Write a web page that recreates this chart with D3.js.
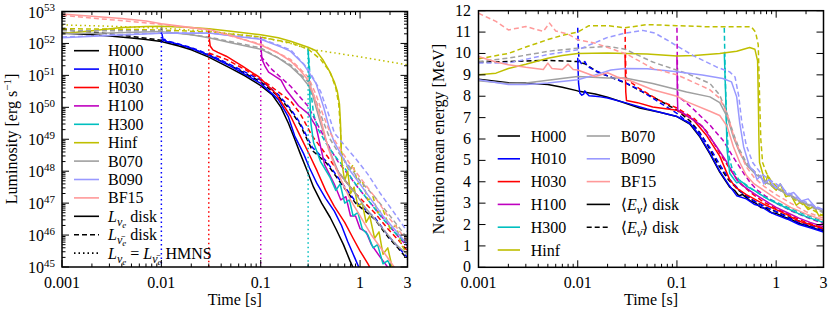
<!DOCTYPE html>
<html>
<head>
<meta charset="utf-8">
<script src="https://cdn.jsdelivr.net/npm/d3@7"></script>
<style>
  body { margin: 0; background: #fff; }
</style>
</head>
<body>
<svg id="chart" width="830" height="312"></svg>
<script>
// ---- data: [time s, log10 L (erg/s)] for the left panel, [time s, MeV] for the right one
const models = ['H000', 'H010', 'H030', 'H100', 'H300', 'Hinf', 'B070', 'B090', 'BF15'];
const timeTicks = [0.001, 0.01, 0.1, 1, 3];
const timeTickLabels = ['0.001', '0.01', '0.1', '1', '3'];
const lumExponents = [45, 46, 47, 48, 49, 50, 51, 52, 53];
const energyTicks = [0, 1, 2, 3, 4, 5, 6, 7, 8, 9, 10, 11, 12];

const lumNue_H000 = [[0.001,52.33],[0.002,52.27],[0.003,52.23],[0.005,52.17],[0.007,52.12],[0.01,52.06],[0.015,51.92],[0.02,51.8],[0.03,51.57],[0.05,51.22],[0.07,50.98],[0.1,50.68],[0.13,50.4],[0.16,50.0],[0.19,49.5],[0.22,49.0],[0.25,48.55],[0.29,48.05],[0.34,47.5],[0.41,47.0],[0.5,46.55],[0.58,46.15],[0.68,45.7],[0.79,45.2],[0.9,44.8]];
const lumAnue_H000 = [[0.001,52.43],[0.002,52.36],[0.005,52.22],[0.01,52.1],[0.02,51.84],[0.03,51.63],[0.05,51.3],[0.1,50.8],[0.15,50.35],[0.2,49.9],[0.25,49.45],[0.33,48.65],[0.46,48.25],[0.65,47.6],[0.9,47.0],[1.4,46.5],[1.9,45.95],[2.4,45.6],[2.8,45.35],[3,45.25]];
const lumNue_H010 = [[0.01,52.55],[0.0102,52.25],[0.0105,52.08],[0.0108,52.13],[0.0112,52.06],[0.013,52.02],[0.015,51.97],[0.02,51.85],[0.03,51.63],[0.05,51.28],[0.1,50.75],[0.15,50.25],[0.19,49.7],[0.22,49.1],[0.27,48.55],[0.31,48.1],[0.37,47.6],[0.45,47.15],[0.55,46.75],[0.65,46.3],[0.75,45.8],[0.88,45.3],[1.0,44.9]];
const lumAnue_H010 = [[0.01,52.12],[0.015,51.98],[0.02,51.87],[0.03,51.66],[0.05,51.33],[0.1,50.85],[0.15,50.4],[0.2,49.95],[0.25,49.5],[0.33,48.75],[0.46,48.3],[0.65,47.65],[0.9,47.05],[1.4,46.55],[1.9,46.0],[2.8,45.4],[3,45.3]];
const lumNue_H030 = [[0.03,52.42],[0.0305,52.1],[0.031,51.92],[0.033,51.8],[0.037,51.72],[0.045,51.6],[0.066,51.28],[0.096,50.95],[0.14,50.45],[0.2,49.72],[0.25,49.1],[0.3,48.6],[0.37,48.0],[0.45,47.4],[0.55,46.9],[0.7,46.4],[0.85,45.9],[1.0,45.5],[1.2,45.1],[1.35,44.8]];
const lumAnue_H030 = [[0.03,51.7],[0.045,51.5],[0.07,51.18],[0.12,50.71],[0.2,50.2],[0.25,49.8],[0.33,49.1],[0.46,48.5],[0.65,47.85],[0.9,47.3],[1.4,46.7],[1.9,46.2],[2.5,45.8],[3,45.5]];
const lumNue_H100 = [[0.1,52.2],[0.101,51.8],[0.103,51.5],[0.11,51.3],[0.12,51.1],[0.16,50.85],[0.18,50.55],[0.24,50.05],[0.3,49.8],[0.36,49.4],[0.44,48.2],[0.55,47.6],[0.64,47.1],[0.72,47.2],[0.8,46.6],[0.9,46.6],[1.0,46.2],[1.15,46.1],[1.3,45.7],[1.6,45.3],[2.0,44.9]];
const lumAnue_H100 = [[0.1,51.6],[0.13,51.18],[0.2,50.66],[0.3,50.03],[0.36,49.55],[0.43,49.1],[0.5,48.7],[0.6,48.3],[0.8,47.8],[1.0,47.4],[1.4,46.85],[1.9,46.35],[2.5,45.9],[3,45.65]];
const lumNue_H300 = [[0.3,51.85],[0.305,51.3],[0.31,50.6],[0.315,50.0],[0.32,49.5],[0.34,48.9],[0.4,48.3],[0.5,47.8],[0.57,47.4],[0.63,47.6],[0.7,47.0],[0.78,47.1],[0.85,46.6],[0.95,46.7],[1.05,46.2],[1.2,46.0],[1.35,45.6],[1.5,45.7],[1.7,45.1],[1.9,45.2],[2.2,44.8]];
const lumAnue_H300 = [[0.3,51.8],[0.31,51.2],[0.32,50.5],[0.34,49.8],[0.38,49.3],[0.45,48.9],[0.55,48.5],[0.7,48.1],[0.9,47.6],[1.2,47.1],[1.6,46.6],[2.2,46.1],[3,45.7]];
const lumNue_Hinf = [[0.001,52.3],[0.002,52.4],[0.004,52.5],[0.007,52.53],[0.01,52.54],[0.02,52.5],[0.03,52.46],[0.05,52.38],[0.1,52.27],[0.15,52.18],[0.2,52.07],[0.3,51.88],[0.36,51.77],[0.42,51.5],[0.49,51.14],[0.55,50.8],[0.59,50.5],[0.62,50.1],[0.635,49.5],[0.645,48.7],[0.66,48.2],[0.7,47.7],[0.75,48.0],[0.8,47.3],[0.87,47.5],[0.95,46.9],[1.05,47.0],[1.15,46.4],[1.25,46.6],[1.4,45.9],[1.55,46.1],[1.7,45.4],[1.9,45.6],[2.1,45.0],[2.3,44.8]];
const lumAnue_Hinf = [[0.001,52.46],[0.003,52.45],[0.01,52.42],[0.03,52.36],[0.1,52.2],[0.2,52.02],[0.3,51.82],[0.4,51.5],[0.5,51.1],[0.57,50.6],[0.61,50.1],[0.635,49.3],[0.65,48.6],[0.7,48.3],[0.78,48.0],[0.85,48.2],[0.95,47.6],[1.05,47.7],[1.2,47.1],[1.35,47.2],[1.5,46.7],[1.7,46.8],[2.0,46.2],[2.3,46.3],[2.6,45.7],[3,45.4]];
const lumNue_B070 = [[0.001,52.3],[0.003,52.33],[0.01,52.37],[0.02,52.27],[0.03,52.18],[0.05,52.02],[0.1,51.82],[0.15,51.55],[0.2,51.28],[0.25,51.0],[0.3,50.7],[0.33,50.45],[0.36,50.0],[0.4,49.5],[0.45,49.0],[0.5,48.6],[0.6,48.0],[0.75,47.6],[0.9,47.3],[1.1,46.9],[1.4,46.5],[1.8,46.1],[2.3,45.7],[3,45.4]];
const lumAnue_B070 = [[0.001,52.4],[0.01,52.4],[0.03,52.2],[0.1,51.86],[0.2,51.33],[0.3,50.8],[0.36,50.2],[0.42,49.6],[0.5,49.0],[0.6,48.6],[0.8,48.1],[1.0,47.7],[1.4,47.2],[2,46.6],[3,45.9]];
const lumNue_B090 = [[0.001,52.18],[0.003,52.25],[0.01,52.32],[0.03,52.33],[0.1,52.13],[0.166,51.87],[0.2,51.75],[0.27,51.35],[0.36,50.75],[0.43,50.0],[0.49,49.35],[0.55,48.9],[0.65,48.5],[0.8,48.0],[1.0,47.6],[1.3,47.1],[1.7,46.6],[2.2,46.2],[3,45.7]];
const lumAnue_B090 = [[0.001,52.2],[0.01,52.33],[0.03,52.33],[0.1,52.15],[0.2,51.8],[0.3,51.2],[0.4,50.5],[0.48,49.8],[0.55,49.2],[0.7,48.8],[0.9,48.4],[1.2,47.9],[1.6,47.3],[2.2,46.7],[3,46.1]];
const lumNue_BF15 = [[0.001,52.92],[0.002,52.85],[0.004,52.78],[0.007,52.7],[0.01,52.62],[0.02,52.5],[0.03,52.44],[0.05,52.25],[0.1,51.95],[0.15,51.7],[0.2,51.45],[0.25,51.15],[0.3,50.85],[0.34,50.4],[0.38,49.9],[0.42,49.4],[0.48,48.7],[0.55,48.2],[0.65,47.7],[0.8,47.1],[1.0,46.6],[1.3,46.0],[1.7,45.5],[2.2,45.0],[2.6,44.8]];
const lumAnue_BF15 = [[0.001,52.88],[0.01,52.6],[0.03,52.42],[0.1,51.98],[0.2,51.5],[0.3,50.95],[0.36,50.4],[0.42,49.8],[0.5,49.2],[0.6,48.8],[0.8,48.2],[1.0,47.8],[1.4,47.2],[2,46.5],[3,45.8]];

// HMNS luminosity (Hinf never collapses) and the drop of the other H models
const hmnsLum_Hinf = [[0.001,52.58],[0.003,52.54],[0.01,52.48],[0.03,52.38],[0.1,52.2],[0.2,52.0],[0.3,51.83],[1.0,51.58],[3,51.33]];
const collapseModels = ['H010', 'H030', 'H100', 'H300'];
const collapseTimes = [0.01, 0.03, 0.1, 0.3];
const collapseLum = [52.48, 52.38, 52.2, 51.83];

const eNue_H000 = [[0.001,8.8],[0.0015,8.7],[0.002,8.63],[0.003,8.62],[0.005,8.55],[0.007,8.42],[0.01,8.25],[0.015,8.1],[0.02,7.95],[0.027,7.75],[0.042,7.45],[0.067,7.25],[0.1,7.05],[0.135,6.7],[0.17,6.1],[0.215,5.3],[0.27,4.45],[0.34,3.75],[0.38,3.6],[0.42,3.35],[0.46,3.4],[0.55,3.1],[0.62,3.0],[0.7,2.8],[0.8,2.75],[0.9,2.55],[1.0,2.52],[1.2,2.35],[1.4,2.25],[1.7,2.05],[2.0,1.97],[2.5,1.8],[3,1.72]];
const eAnue_H000 = [[0.001,9.6],[0.002,9.62],[0.005,9.68],[0.01,9.62],[0.012,9.5],[0.0155,9.15],[0.02,8.95],[0.031,8.6],[0.045,8.2],[0.067,7.8],[0.1,7.35],[0.135,6.85],[0.17,6.3],[0.21,5.6],[0.26,4.8],[0.33,4.1],[0.42,3.6],[0.55,3.2],[0.75,2.85],[1.0,2.6],[1.5,2.25],[2.0,2.05],[3,1.8]];
const eNue_H010 = [[0.01,9.8],[0.0102,8.6],[0.0105,8.15],[0.011,8.05],[0.0115,8.1],[0.0118,8.25],[0.0122,8.15],[0.013,8.02],[0.015,8.0],[0.017,7.97],[0.02,7.92],[0.03,7.7],[0.05,7.4],[0.1,7.05],[0.135,6.75],[0.17,6.15],[0.215,5.35],[0.27,4.5],[0.34,3.8],[0.4,3.35],[0.5,3.2],[0.6,2.95],[0.7,2.85],[0.85,2.6],[1.0,2.45],[1.3,2.25],[1.7,2.0],[2.2,1.85],[3,1.65]];
const eAnue_H010 = [[0.01,11.2],[0.0101,10.5],[0.0103,9.7],[0.011,9.5],[0.0118,9.62],[0.0125,9.4],[0.015,9.2],[0.02,8.95],[0.029,8.67],[0.042,8.3],[0.067,7.7],[0.1,7.2],[0.158,6.45],[0.215,5.6],[0.27,4.8],[0.34,4.1],[0.45,3.5],[0.6,3.1],[0.8,2.8],[1.0,2.6],[1.5,2.2],[2.0,2.0],[3,1.75]];
const eNue_H030 = [[0.03,9.95],[0.0305,8.2],[0.031,7.8],[0.04,7.7],[0.057,7.5],[0.1,7.35],[0.146,6.9],[0.2,6.15],[0.27,5.2],[0.34,4.1],[0.4,3.7],[0.5,3.4],[0.6,3.2],[0.75,2.95],[1.0,2.7],[1.3,2.45],[1.7,2.15],[2.2,2.0],[3,1.8]];
const eAnue_H030 = [[0.03,11.15],[0.0302,10.2],[0.0305,9.3],[0.031,8.8],[0.042,8.35],[0.067,7.8],[0.1,7.45],[0.15,6.95],[0.2,6.35],[0.25,5.6],[0.32,4.8],[0.42,4.0],[0.55,3.5],[0.75,3.05],[1.0,2.75],[1.5,2.35],[2.0,2.1],[3,1.85]];
const eNue_H100 = [[0.1,9.9],[0.101,8.0],[0.102,7.35],[0.125,7.12],[0.18,6.6],[0.25,5.65],[0.32,4.9],[0.4,4.1],[0.45,3.85],[0.5,3.7],[0.6,3.45],[0.7,3.25],[0.85,3.0],[1.0,2.8],[1.3,2.55],[1.7,2.3],[2.2,2.1],[3,1.9]];
const eAnue_H100 = [[0.1,11.2],[0.101,9.5],[0.102,8.0],[0.12,7.75],[0.146,7.4],[0.215,6.65],[0.29,5.95],[0.37,5.15],[0.47,4.4],[0.55,3.95],[0.65,3.6],[0.8,3.3],[1.0,3.0],[1.4,2.65],[2.0,2.35],[3,2.05]];
const eNue_H300 = [[0.3,10.05],[0.31,8.0],[0.32,5.5],[0.34,4.4],[0.4,3.95],[0.45,4.0],[0.5,3.8],[0.6,3.6],[0.7,3.4],[0.85,3.15],[1.0,3.0],[1.3,2.75],[1.7,2.5],[2.2,2.3],[3,2.1]];
const eAnue_H300 = [[0.3,11.2],[0.305,9.5],[0.315,7.0],[0.33,5.3],[0.36,4.6],[0.42,4.1],[0.5,3.85],[0.6,3.6],[0.75,3.3],[1.0,3.05],[1.4,2.75],[2.0,2.45],[3,2.15]];
const eNue_Hinf = [[0.001,9.0],[0.0015,9.08],[0.002,9.3],[0.003,9.5],[0.005,9.78],[0.007,9.9],[0.01,10.0],[0.02,10.02],[0.03,10.0],[0.05,9.98],[0.1,9.88],[0.15,9.9],[0.27,10.0],[0.4,10.1],[0.54,10.28],[0.61,10.2],[0.65,9.65],[0.66,8.0],[0.67,6.0],[0.68,4.9],[0.72,4.5],[0.78,3.9],[0.82,4.3],[0.9,3.8],[1.0,3.6],[1.1,3.9],[1.25,3.3],[1.4,3.4],[1.6,2.9],[1.8,3.1],[2.1,2.7],[2.4,2.85],[2.7,2.4],[3,2.5]];
const eAnue_Hinf = [[0.001,9.75],[0.002,10.0],[0.003,10.3],[0.005,10.65],[0.007,10.85],[0.01,11.0],[0.013,11.3],[0.02,11.3],[0.03,11.2],[0.05,11.35],[0.1,11.3],[0.2,11.25],[0.3,11.25],[0.56,11.25],[0.62,11.0],[0.66,10.4],[0.68,8.0],[0.7,6.0],[0.73,4.9],[0.8,4.4],[0.9,4.0],[1.0,3.8],[1.2,3.5],[1.5,3.2],[2.0,2.85],[2.5,2.6],[3,2.4]];
const eNue_B070 = [[0.001,8.72],[0.002,8.6],[0.003,8.62],[0.005,8.75],[0.01,8.92],[0.02,8.85],[0.03,8.85],[0.057,8.6],[0.125,8.2],[0.215,7.97],[0.27,7.7],[0.32,7.05],[0.37,6.1],[0.43,5.35],[0.5,4.8],[0.55,4.6],[0.62,4.35],[0.7,4.2],[0.78,3.95],[0.85,3.9],[1.0,3.7],[1.15,3.55],[1.3,3.4],[1.5,3.3],[1.7,3.1],[2.2,2.9],[2.6,2.75],[3,2.6]];
const eAnue_B070 = [[0.001,9.62],[0.002,9.78],[0.005,10.1],[0.01,10.25],[0.02,10.33],[0.03,10.2],[0.057,9.6],[0.125,9.07],[0.215,8.6],[0.27,8.05],[0.32,7.2],[0.37,6.26],[0.43,5.48],[0.5,4.9],[0.6,4.5],[0.75,4.1],[1.0,3.7],[1.3,3.4],[1.7,3.1],[2.2,2.85],[3,2.55]];
const eNue_B090 = [[0.001,8.77],[0.002,8.55],[0.003,8.55],[0.005,8.62],[0.01,8.77],[0.015,9.0],[0.0216,9.23],[0.03,9.3],[0.05,9.28],[0.1,9.14],[0.18,8.99],[0.29,8.83],[0.355,8.67],[0.4,7.97],[0.43,6.73],[0.47,5.64],[0.54,4.7],[0.6,4.5],[0.64,4.1],[0.7,4.3],[0.75,3.9],[0.85,4.1],[1.0,3.7],[1.1,3.9],[1.3,3.4],[1.5,3.5],[1.8,3.1],[2.1,3.2],[2.5,2.8],[3,2.7]];
const eAnue_B090 = [[0.001,9.55],[0.002,9.55],[0.005,9.95],[0.01,10.17],[0.02,10.75],[0.03,10.95],[0.045,11.08],[0.06,10.95],[0.085,10.55],[0.1,10.35],[0.146,9.9],[0.25,9.37],[0.34,9.14],[0.385,8.9],[0.42,8.0],[0.45,6.8],[0.5,5.7],[0.58,4.9],[0.7,4.4],[0.85,4.1],[1.0,3.9],[1.3,3.5],[1.7,3.2],[2.2,2.95],[3,2.7]];
const eNue_BF15 = [[0.001,9.86],[0.0015,9.6],[0.002,9.47],[0.003,9.35],[0.0045,9.25],[0.005,9.55],[0.0055,9.3],[0.007,9.25],[0.008,9.5],[0.009,9.25],[0.01,9.23],[0.015,8.92],[0.02,9.1],[0.025,8.9],[0.032,8.77],[0.057,8.3],[0.1,8.0],[0.125,7.75],[0.215,7.3],[0.27,7.1],[0.32,6.6],[0.37,5.65],[0.43,4.9],[0.5,4.3],[0.6,3.9],[0.75,3.6],[1.0,3.2],[1.4,2.8],[2,2.5],[3,2.2]];
const eAnue_BF15 = [[0.001,11.88],[0.0015,11.5],[0.002,11.1],[0.003,11.26],[0.0045,11.03],[0.0052,11.42],[0.006,11.05],[0.008,10.9],[0.01,10.64],[0.015,10.48],[0.021,10.25],[0.032,9.94],[0.057,9.3],[0.1,9.0],[0.125,8.8],[0.215,8.3],[0.27,7.9],[0.32,7.2],[0.37,6.2],[0.43,5.4],[0.5,4.7],[0.6,4.2],[0.75,3.8],[1.0,3.4],[1.4,3.0],[2.0,2.6],[3,2.3]];

// ---- styles
const modelColor = {
  H000: '#000000', H010: '#0000ff', H030: '#ff0000', H100: '#bf00bf', H300: '#00bfbf',
  Hinf: '#bfbf00', B070: '#a0a0a0', B090: '#9999ff', BF15: '#ff9999'
};
const dashStyle = { nue: null, anue: '5,3', hmns: '1.5,3' };

const lumData = {
  H000: [lumNue_H000, lumAnue_H000], H010: [lumNue_H010, lumAnue_H010], H030: [lumNue_H030, lumAnue_H030],
  H100: [lumNue_H100, lumAnue_H100], H300: [lumNue_H300, lumAnue_H300], Hinf: [lumNue_Hinf, lumAnue_Hinf],
  B070: [lumNue_B070, lumAnue_B070], B090: [lumNue_B090, lumAnue_B090], BF15: [lumNue_BF15, lumAnue_BF15]
};
const energyData = {
  H000: [eNue_H000, eAnue_H000], H010: [eNue_H010, eAnue_H010], H030: [eNue_H030, eAnue_H030],
  H100: [eNue_H100, eAnue_H100], H300: [eNue_H300, eAnue_H300], Hinf: [eNue_Hinf, eAnue_Hinf],
  B070: [eNue_B070, eAnue_B070], B090: [eNue_B090, eAnue_B090], BF15: [eNue_BF15, eAnue_BF15]
};

const svg = d3.select('#chart');
const FONT = '"Liberation Serif", Tinos, "Nimbus Roman", "Times New Roman", Times, "DejaVu Serif", "Noto Serif", FreeSerif, serif';
const FS = 16;

// panel boxes
const L = { x0: 62, x1: 407.5, y0: 11.5, y1: 267 };
const R = { x0: 478.5, x1: 823.5, y0: 10.7, y1: 267.3 };

const xL = d3.scaleLog().domain([0.001, 3]).range([L.x0, L.x1]);
const yL = d3.scaleLog().domain([1e45, 1e53]).range([L.y1, L.y0]);
const xR = d3.scaleLog().domain([0.001, 3]).range([R.x0, R.x1]);
const yR = d3.scaleLinear().domain([0, 12]).range([R.y1, R.y0]);

const minorTimes = [];
[0.001, 0.01, 0.1, 1].forEach(function (dec) {
  for (let k = 2; k <= 9; k++) if (dec * k < 3) minorTimes.push(dec * k);
});
const minorLum = [];
lumExponents.slice(0, -1).forEach(function (e) {
  for (let k = 2; k <= 9; k++) minorLum.push(k * Math.pow(10, e));
});

function txt(g, x, y) {
  return g.append('text').attr('x', x).attr('y', y)
    .style('font-family', FONT).attr('font-size', FS).attr('fill', '#000');
}

function rich(g, x, y, parts, anchor) {
  const t = txt(g, x, y).attr('text-anchor', anchor || 'start');
  let prev = 0;
  parts.forEach(function (p) {
    const sh = p.sh || 0;
    t.append('tspan').attr('dy', sh - prev)
      .attr('font-size', p.fs || FS)
      .attr('font-style', p.it ? 'italic' : 'normal')
      .text(p.s);
    prev = sh;
  });
  return t;
}

function clip(id, b) {
  svg.append('clipPath').attr('id', id).append('rect')
    .attr('x', b.x0).attr('y', b.y0).attr('width', b.x1 - b.x0).attr('height', b.y1 - b.y0);
}
clip('clipL', L);
clip('clipR', R);

function drawSeries(g, data, x, y, color, dash, toY) {
  const line = d3.line().x(function (d) { return x(d[0]); }).y(function (d) { return y(toY(d[1])); });
  g.append('path').attr('d', line(data))
    .attr('fill', 'none').attr('stroke', color).attr('stroke-width', 1.5)
    .attr('stroke-linejoin', 'round')
    .attr('stroke-dasharray', dash);
}

const pow10 = function (v) { return Math.pow(10, v); };
const ident = function (v) { return v; };

// ---- left panel curves
const gL = svg.append('g').attr('clip-path', 'url(#clipL)');
models.forEach(function (m) {
  drawSeries(gL, lumData[m][0], xL, yL, modelColor[m], dashStyle.nue, pow10);
  drawSeries(gL, lumData[m][1], xL, yL, modelColor[m], dashStyle.anue, pow10);
});
collapseModels.forEach(function (m, i) {
  const seg = [[collapseTimes[i], collapseLum[i]], [collapseTimes[i], 44]];
  drawSeries(gL, seg, xL, yL, modelColor[m], dashStyle.hmns, pow10);
});
drawSeries(gL, hmnsLum_Hinf, xL, yL, modelColor.Hinf, dashStyle.hmns, pow10);

// ---- right panel curves
const gR = svg.append('g').attr('clip-path', 'url(#clipR)');
models.forEach(function (m) {
  drawSeries(gR, energyData[m][0], xR, yR, modelColor[m], dashStyle.nue, ident);
  drawSeries(gR, energyData[m][1], xR, yR, modelColor[m], dashStyle.anue, ident);
});

// ---- frames and ticks
function frame(b, x, y, xMaj, xMin, yMaj, yMin) {
  const g = svg.append('g').attr('stroke', '#000').attr('stroke-width', 1);
  xMaj.forEach(function (t) {
    const px = x(t);
    g.append('line').attr('x1', px).attr('x2', px).attr('y1', b.y1).attr('y2', b.y1 - 7);
    g.append('line').attr('x1', px).attr('x2', px).attr('y1', b.y0).attr('y2', b.y0 + 7);
  });
  xMin.forEach(function (t) {
    const px = x(t);
    g.append('line').attr('x1', px).attr('x2', px).attr('y1', b.y1).attr('y2', b.y1 - 3.5);
    g.append('line').attr('x1', px).attr('x2', px).attr('y1', b.y0).attr('y2', b.y0 + 3.5);
  });
  yMaj.forEach(function (v) {
    const py = y(v);
    g.append('line').attr('x1', b.x0).attr('x2', b.x0 + 7).attr('y1', py).attr('y2', py);
    g.append('line').attr('x1', b.x1).attr('x2', b.x1 - 7).attr('y1', py).attr('y2', py);
  });
  yMin.forEach(function (v) {
    const py = y(v);
    g.append('line').attr('x1', b.x0).attr('x2', b.x0 + 3.5).attr('y1', py).attr('y2', py);
    g.append('line').attr('x1', b.x1).attr('x2', b.x1 - 3.5).attr('y1', py).attr('y2', py);
  });
  svg.append('rect').attr('x', b.x0).attr('y', b.y0)
    .attr('width', b.x1 - b.x0).attr('height', b.y1 - b.y0)
    .attr('fill', 'none').attr('stroke', '#000').attr('stroke-width', 1.5);
}
frame(L, xL, yL, timeTicks.slice(0, 4), minorTimes, lumExponents.map(pow10), minorLum);
frame(R, xR, yR, timeTicks.slice(0, 4), minorTimes, energyTicks, []);

// tick labels
const labels = svg.append('g');
[[xL, L], [xR, R]].forEach(function (p) {
  timeTicks.forEach(function (t, i) {
    txt(labels, p[0](t), p[1].y1 + 21).attr('text-anchor', 'middle').text(timeTickLabels[i]);
  });
});
lumExponents.forEach(function (e) {
  rich(labels, 55, yL(pow10(e)) + 6, [{ s: '10' }, { s: String(e), fs: 11, sh: -6.5 }], 'end');
});
energyTicks.forEach(function (v) {
  txt(labels, 471, yR(v) + 5).attr('text-anchor', 'end').text(v);
});

// axis titles
txt(labels, (L.x0 + L.x1) / 2, 305).attr('text-anchor', 'middle').text('Time [s]');
txt(labels, (R.x0 + R.x1) / 2, 305).attr('text-anchor', 'middle').text('Time [s]');
rich(labels.append('g').attr('transform', 'translate(17,139) rotate(-90)'), 0, 0,
  [{ s: 'Luminosity [erg s' }, { s: '\u22121', fs: 11, sh: -6.5 }, { s: ']' }], 'middle');
txt(labels.append('g').attr('transform', 'translate(444,139) rotate(-90)'), 0, 0)
  .attr('text-anchor', 'middle').text('Neutrino mean energy [MeV]');

// ---- legends
function legendLine(g, x0, x1, y, color, dash) {
  g.append('line').attr('x1', x0).attr('x2', x1).attr('y1', y).attr('y2', y)
    .attr('stroke', color).attr('stroke-width', 1.6).attr('stroke-dasharray', dash);
}
const nuE = [{ s: 'L', it: true }, { s: '\u03bd', it: true, fs: 12, sh: 4 }, { s: 'e', it: true, fs: 9, sh: 6 }];
const nuEbar = [{ s: 'L', it: true }, { s: '\u03bd\u0304', it: true, fs: 12, sh: 4 }, { s: 'e', it: true, fs: 9, sh: 6 }];

const legL = svg.append('g');
const legLRows = models.length + 3;
for (let i = 0; i < legLRows; i++) {
  const y = 50.7 + i * 18.4;
  if (i < models.length) {
    legendLine(legL, 74, 99, y, modelColor[models[i]], null);
    txt(legL, 108, y + 5.5).text(models[i]);
  } else {
    const kind = ['nue', 'anue', 'hmns'][i - models.length];
    legendLine(legL, 74, 99, y, '#000', dashStyle[kind]);
    let parts;
    if (kind === 'nue') parts = nuE.concat([{ s: '\u00a0disk' }]);
    else if (kind === 'anue') parts = nuEbar.concat([{ s: '\u00a0disk' }]);
    else parts = nuE.concat([{ s: '\u00a0=\u00a0' }], nuEbar, [{ s: '\u00a0HMNS' }]);
    rich(legL, 108, y + 5.5, parts);
  }
}

const legR = svg.append('g');
const col2 = ['B070', 'B090', 'BF15', 'nue', 'anue'];
models.slice(0, 6).forEach(function (m, i) {
  const y = 136 + i * 22.8;
  legendLine(legR, 497.7, 520, y, modelColor[m], null);
  txt(legR, 530.7, y + 5.5).text(m);
});
col2.forEach(function (m, i) {
  const y = 136 + i * 22.8;
  if (modelColor[m]) {
    legendLine(legR, 586.7, 610, y, modelColor[m], null);
    txt(legR, 620.7, y + 5.5).text(m);
  } else {
    legendLine(legR, 586.7, 610, y, '#000', dashStyle[m]);
    rich(legR, 620.7, y + 5.5, [{ s: '\u27e8' }, { s: 'E', it: true },
      { s: m === 'nue' ? '\u03bd' : '\u03bd\u0304', it: true, fs: 12, sh: 4 },
      { s: '\u27e9' }, { s: '\u00a0disk' }]);
  }
});
</script>
</body>
</html>
